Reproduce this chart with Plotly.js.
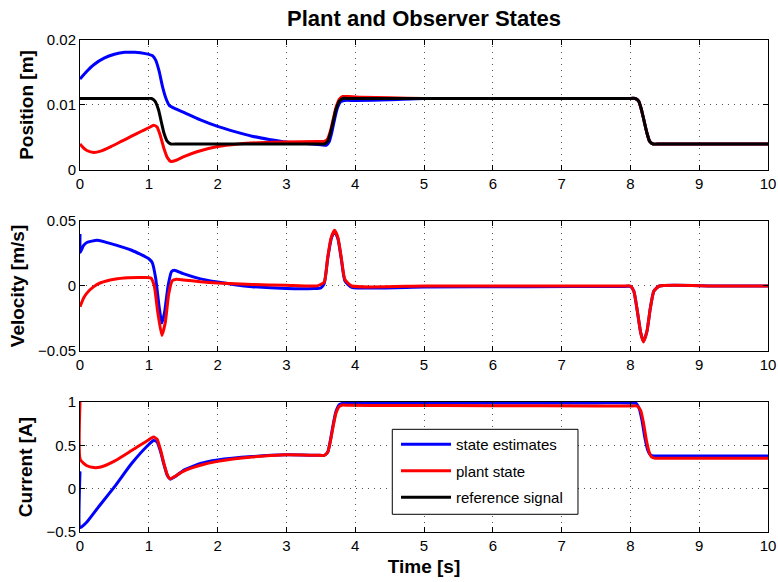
<!DOCTYPE html>
<html>
<head>
<meta charset="utf-8">
<script src="https://cdn.plot.ly/plotly-3.0.1.min.js"></script>
<style>html,body{margin:0;padding:0;background:#fff;}#chart{width:778px;height:582px;}</style>
</head>
<body>
<div id="chart"></div>
<script>
// ---- Position [m] ----
const tPosRef = [0, 0.5, 0.95, 1.04, 1.09, 1.14, 1.18, 1.22, 1.27, 1.32, 1.42, 2.5, 3.45, 3.55, 3.6, 3.64, 3.68, 3.72, 3.77, 3.82, 3.92, 6, 7.97, 8.07, 8.12, 8.16, 8.2, 8.24, 8.28, 8.33, 8.43, 10];
const posRef = [0.011, 0.011, 0.011, 0.011, 0.0106, 0.0093, 0.0075, 0.0057, 0.0044, 0.004, 0.004, 0.004, 0.004, 0.004, 0.0044, 0.0057, 0.0075, 0.0093, 0.0106, 0.011, 0.011, 0.011, 0.011, 0.011, 0.0106, 0.0093, 0.0075, 0.0057, 0.0044, 0.004, 0.004, 0.004];

const tPosPlant = [0, 0.05, 0.1, 0.2, 0.3, 0.45, 0.6, 0.75, 0.9, 1.0, 1.07, 1.12, 1.17, 1.22, 1.27, 1.32, 1.4, 1.5, 1.7, 2.0, 2.3, 2.6, 3.0, 3.45, 3.55, 3.6, 3.64, 3.68, 3.72, 3.77, 3.82, 3.9, 4.1, 4.5, 5.0, 6.5, 7.97, 8.07, 8.12, 8.16, 8.2, 8.24, 8.28, 8.33, 8.43, 10];
const posPlant = [0.004, 0.0034, 0.003, 0.0027, 0.0029, 0.0036, 0.0044, 0.0052, 0.006, 0.0065, 0.0069, 0.0066, 0.0052, 0.0033, 0.0019, 0.0013, 0.0015, 0.002, 0.0028, 0.0036, 0.004, 0.0042, 0.0043, 0.0044, 0.0044, 0.0048, 0.006, 0.0078, 0.0096, 0.0109, 0.0113, 0.0113, 0.0112, 0.0111, 0.011, 0.011, 0.011, 0.011, 0.0106, 0.0093, 0.0075, 0.0057, 0.0044, 0.004, 0.004, 0.004];

const tPosEst = [0, 0.1, 0.2, 0.35, 0.5, 0.65, 0.8, 0.95, 1.05, 1.1, 1.15, 1.2, 1.25, 1.3, 1.35, 1.5, 1.75, 2.0, 2.25, 2.5, 2.75, 3.0, 3.25, 3.5, 3.58, 3.62, 3.66, 3.7, 3.74, 3.79, 3.84, 4.0, 4.5, 5.0, 6.5, 7.97, 8.07, 8.12, 8.16, 8.2, 8.24, 8.28, 8.33, 8.43, 10];
const posEst = [0.014, 0.0152, 0.0162, 0.0172, 0.0178, 0.0181, 0.0181, 0.0179, 0.0176, 0.0169, 0.0152, 0.0128, 0.011, 0.0099, 0.0096, 0.0089, 0.0077, 0.0067, 0.0059, 0.0052, 0.0047, 0.0043, 0.0041, 0.0039, 0.0038, 0.0043, 0.0058, 0.0078, 0.0095, 0.0105, 0.0107, 0.0107, 0.0108, 0.011, 0.011, 0.011, 0.011, 0.0106, 0.0093, 0.0075, 0.0057, 0.0044, 0.004, 0.004, 0.004];

// ---- Velocity [m/s] ----
const tVelPlant = [0, 0.05, 0.1, 0.2, 0.3, 0.5, 0.7, 0.9, 1.03, 1.08, 1.13, 1.19, 1.24, 1.29, 1.34, 1.4, 1.5, 1.75, 2.0, 2.5, 3.0, 3.45, 3.55, 3.6, 3.65, 3.7, 3.75, 3.8, 3.85, 3.95, 5.0, 6.5, 7.92, 8.0, 8.05, 8.1, 8.15, 8.19, 8.24, 8.29, 8.34, 8.42, 9.2, 10];
const velPlant = [-0.016, -0.0095, -0.0055, -0.0005, 0.0025, 0.0052, 0.0063, 0.0065, 0.0062, 0.0, -0.02, -0.038, -0.028, -0.006, 0.004, 0.0052, 0.0047, 0.0033, 0.0023, 0.0012, 0.0005, 0.0001, 0.003, 0.022, 0.037, 0.0428, 0.037, 0.021, 0.005, 0.0, 0.0, 0.0, 0.0, 0.0, -0.004, -0.019, -0.036, -0.043, -0.035, -0.017, -0.004, 0.0, 0.0, 0.0];

const tVelEst = [0, 0.005, 0.05, 0.1, 0.25, 0.5, 0.75, 1.0, 1.05, 1.1, 1.15, 1.19, 1.23, 1.28, 1.33, 1.37, 1.5, 1.75, 2.0, 2.25, 2.5, 3.0, 3.4, 3.5, 3.55, 3.6, 3.65, 3.7, 3.75, 3.8, 3.85, 3.95, 5.0, 6.5, 7.92, 8.0, 8.05, 8.1, 8.15, 8.19, 8.24, 8.29, 8.34, 8.42, 9.2, 10];
const velEst = [0.04, 0.026, 0.031, 0.0335, 0.0352, 0.0318, 0.0275, 0.021, 0.018, 0.006, -0.016, -0.0285, -0.02, 0.0, 0.011, 0.0122, 0.0095, 0.0055, 0.003, 0.001, -0.0005, -0.002, -0.002, -0.0015, 0.002, 0.021, 0.036, 0.0422, 0.036, 0.02, 0.004, -0.001, -0.0008, -0.0005, -0.0003, -0.0003, -0.004, -0.019, -0.036, -0.0425, -0.035, -0.017, -0.004, 0.0, 0.0, 0.0];

// ---- Current [A] ----
const tCurPlant = [0, 0.004, 0.1, 0.2, 0.3, 0.5, 0.75, 1.0, 1.07, 1.12, 1.17, 1.22, 1.27, 1.31, 1.4, 1.5, 1.75, 2.0, 2.5, 3.0, 3.45, 3.55, 3.6, 3.64, 3.68, 3.72, 3.77, 3.82, 3.9, 4.5, 6.0, 7.5, 8.0, 8.1, 8.15, 8.19, 8.23, 8.27, 8.31, 8.36, 8.46, 9.2, 10];
const curPlant = [1.0, 0.335, 0.265, 0.243, 0.25, 0.318, 0.44, 0.565, 0.596, 0.57, 0.45, 0.29, 0.16, 0.115, 0.15, 0.2, 0.27, 0.315, 0.365, 0.39, 0.385, 0.385, 0.42, 0.55, 0.72, 0.87, 0.95, 0.965, 0.962, 0.96, 0.957, 0.955, 0.955, 0.953, 0.9, 0.76, 0.57, 0.43, 0.365, 0.352, 0.352, 0.352, 0.352];

const tCurEst = [0, 0.004, 0.1, 0.25, 0.5, 0.75, 1.0, 1.07, 1.12, 1.17, 1.22, 1.27, 1.31, 1.4, 1.5, 1.75, 2.0, 2.5, 3.0, 3.45, 3.55, 3.6, 3.64, 3.68, 3.72, 3.77, 3.82, 3.9, 4.5, 6.0, 7.5, 7.98, 8.08, 8.13, 8.17, 8.21, 8.25, 8.29, 8.34, 8.44, 9.2, 10];
const curEst = [0.2, -0.45, -0.385, -0.23, 0.02, 0.29, 0.51, 0.555, 0.54, 0.43, 0.28, 0.15, 0.11, 0.15, 0.21, 0.29, 0.33, 0.37, 0.39, 0.385, 0.385, 0.42, 0.56, 0.74, 0.89, 0.97, 0.985, 0.99, 0.99, 0.99, 0.99, 0.99, 0.985, 0.92, 0.78, 0.59, 0.45, 0.39, 0.377, 0.377, 0.377, 0.377];

const seriesNames = ['state estimates', 'plant state', 'reference signal'];
const xTickVals = [0, 1, 2, 3, 4, 5, 6, 7, 8, 9, 10];

const BLUE = '#0000ff', RED = '#ff0000', BLACK = '#000000';
const FONT = 'Liberation Sans, Arial, Helvetica, sans-serif';

function tr(x, y, color, xa, ya, name, show, group) {
  return {
    x: x, y: y, type: 'scatter', mode: 'lines',
    line: {color: color, width: 3, shape: 'spline', smoothing: 0.5},
    xaxis: xa, yaxis: ya, name: name, showlegend: show, legendgroup: group,
    hoverinfo: 'skip'
  };
}

const data = [
  tr(tPosEst, posEst, BLUE, 'x', 'y', seriesNames[0], true, 'g1'),
  tr(tPosPlant, posPlant, RED, 'x', 'y', seriesNames[1], true, 'g2'),
  tr(tPosRef, posRef, BLACK, 'x', 'y', seriesNames[2], true, 'g3'),
  tr(tVelEst, velEst, BLUE, 'x2', 'y2', seriesNames[0], false, 'g1'),
  tr(tVelPlant, velPlant, RED, 'x2', 'y2', seriesNames[1], false, 'g2'),
  tr(tCurEst, curEst, BLUE, 'x3', 'y3', seriesNames[0], false, 'g1'),
  tr(tCurPlant, curPlant, RED, 'x3', 'y3', seriesNames[1], false, 'g2')
];

function xax(anchor, title) {
  const a = {
    domain: [0, 1], anchor: anchor, range: [0, 10], tickvals: xTickVals,
    showgrid: true, gridcolor: '#555', griddash: '1px,5px', gridwidth: 1,
    zeroline: false, showline: true, linecolor: '#000', linewidth: 1, mirror: 'ticks',
    ticks: 'inside', ticklen: 5, tickcolor: '#000',
    tickfont: {family: FONT, size: 15, color: '#000'}
  };
  if (title) a.title = {text: title, font: {family: FONT, size: 19, color: '#000', weight: 'bold'}, standoff: 6};
  return a;
}
function yax(anchor, domain, range, dtick, title) {
  return {
    domain: domain, anchor: anchor, range: range, dtick: dtick, tick0: 0,
    showgrid: true, gridcolor: '#555', griddash: '1px,5px', gridwidth: 1,
    zeroline: false, showline: true, linecolor: '#000', linewidth: 1, mirror: 'ticks',
    ticks: 'inside', ticklen: 5, tickcolor: '#000',
    tickfont: {family: FONT, size: 15, color: '#000'},
    title: {text: title, font: {family: FONT, size: 19, color: '#000', weight: 'bold'}, standoff: 8}
  };
}

const layout = {
  width: 778, height: 582,
  margin: {l: 80, r: 10, t: 40, b: 50},
  paper_bgcolor: '#fff', plot_bgcolor: '#fff',
  font: {family: FONT, color: '#000'},
  title: {text: 'Plant and Observer States', x: 0.5, xref: 'paper', y: 0.969, yref: 'container', yanchor: 'middle',
          font: {family: FONT, size: 22, color: '#000', weight: 'bold'}},
  xaxis: xax('y'),
  yaxis: yax('x', [0.7358, 1], [0, 0.02], 0.01, 'Position [m]'),
  xaxis2: xax('y2'),
  yaxis2: yax('x2', [0.3679, 0.6321], [-0.05, 0.05], 0.05, 'Velocity [m/s]'),
  xaxis3: xax('y3', 'Time [s]'),
  yaxis3: yax('x3', [0, 0.2642], [-0.5, 1], 0.5, 'Current [A]'),
  shapes: [{
    type: 'rect', xref: 'paper', yref: 'paper', layer: 'above',
    x0: 0.4539, x1: 0.7238, y0: 0.036, y1: 0.2087,
    fillcolor: '#fff', line: {color: '#000', width: 1}
  }],
  showlegend: true,
  legend: {
    x: 0.4593, y: 0.2113, xanchor: 'left', yanchor: 'top', xref: 'paper', yref: 'paper',
    bgcolor: 'rgba(0,0,0,0)', borderwidth: 0,
    font: {family: FONT, size: 15, color: '#000'},
    traceorder: 'grouped', tracegroupgap: 4, itemwidth: 50
  }
};

Plotly.newPlot('chart', data, layout, {displayModeBar: false, staticPlot: true});
</script>
</body>
</html>
